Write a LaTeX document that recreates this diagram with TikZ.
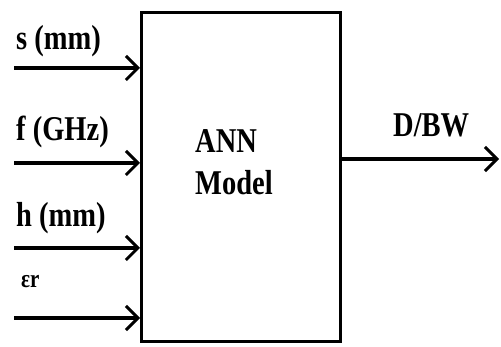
\documentclass[tikz,border=0pt]{standalone}
\usepackage{fontspec}
\setmainfont{Liberation Serif}
\usetikzlibrary{arrows.meta, positioning}
\newcommand{\tallbf}[1]{\scalebox{1}[1.22]{#1}}
\tikzset{
	annbox/.style={
			draw=black,
			line width=3pt,
			minimum width=199pt,
			minimum height=329pt,
			inner sep=0pt
		},
	inlabel/.style={
			anchor=base west,
			font=\bfseries\fontsize{28.5}{34.4}\selectfont,
			inner sep=0pt
		},
	sigline/.style={
			line width=4.5pt,
			-{Straight Barb[length=12pt, width=24pt, line width=3pt]}
		}
}

\begin{document}
\begin{tikzpicture}[x=1pt, y=-1pt]
\useasboundingbox (0,0) rectangle (501,347);
\node[annbox] (ann) at (241,177) {};
\node[inlabel] (annt) at (195,153)
  {\tallbf{\begin{tabular}[t]{@{}l@{}}ANN\\Model\end{tabular}}};

\coordinate (s0) at (14,68);
\coordinate (f0) at (14,163);
\coordinate (h0) at (14,248);
\coordinate (e0) at (14,318);
\coordinate (out) at (499,159);

\node[inlabel] (sl) at (16,50) {\tallbf{s (mm)}};
\node[inlabel] (fl) at (16,141) {\tallbf{f (GHz)}};
\node[inlabel] (hl) at (16,227) {\tallbf{h (mm)}};
\node[inlabel] (el) at (21,288) {\fontsize{21}{24}\selectfont\tallbf{εr}};
\node[inlabel] (dl) at (393,137) {\tallbf{D/BW}};

\draw[sigline] (s0) -- (s0 -| ann.west);
\draw[sigline] (f0) -- (f0 -| ann.west);
\draw[sigline] (h0) -- (h0 -| ann.west);
\draw[sigline] (e0) -- (e0 -| ann.west);
\draw[sigline] (ann.east |- out) -- (out);

\end{tikzpicture}
\end{document}
